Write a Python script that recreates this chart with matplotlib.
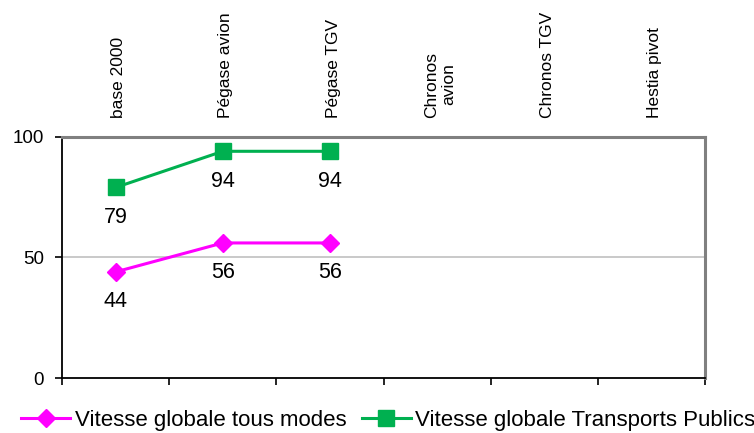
import numpy as np
import matplotlib.pyplot as plt

# Donnees du graphique
scenarios = ["base 2000", "Pégase avion", "Pégase TGV", "Chronos\navion", "Chronos TGV", "Hestia pivot"]
vitesse_tous_modes = [44, 56, 56]
vitesse_tc = [79, 94, 94]
serie_labels = ["Vitesse globale tous modes", "Vitesse globale Transports Publics"]

plt.rcParams['font.family'] = ['Liberation Sans', 'DejaVu Sans']

fig = plt.figure(figsize=(7.54, 4.33), dpi=100)
ax = fig.add_axes([0.0822, 0.127, 0.853, 0.557])

x1 = np.arange(len(vitesse_tous_modes))
x2 = np.arange(len(vitesse_tc))

ax.plot(x1, vitesse_tous_modes, color="#FF00FF", lw=2.2, marker="D", ms=9.5,
        label=serie_labels[0], zorder=3)
ax.plot(x2, vitesse_tc, color="#00B050", lw=2.2, marker="s", ms=12,
        label=serie_labels[1], zorder=3)

# etiquettes de valeurs sous les points
for xs, ys in [(x1, vitesse_tous_modes), (x2, vitesse_tc)]:
    for xi, yi in zip(xs, ys):
        ax.annotate(str(yi), (xi, yi), xytext=(0, -21.5), textcoords="offset points",
                    ha="center", va="center", fontsize=15.5)

ax.set_xlim(-0.5, len(scenarios) - 0.5)
ax.set_ylim(0, 100)
ax.set_yticks([0, 50, 100])
ax.set_xticks(np.arange(-0.5, len(scenarios), 1.0))
ax.set_xticklabels([])
ax.tick_params(axis="both", direction="out", length=5, width=1.2, labelsize=13.5)
ax.tick_params(axis="y", pad=8)

ax.axhline(50, color="#C0C0C0", lw=1.2, zorder=1)

for s in ["left", "bottom"]:
    ax.spines[s].set_color("black")
    ax.spines[s].set_linewidth(1.3)
for s in ["top", "right"]:
    ax.spines[s].set_color("#808080")
    ax.spines[s].set_linewidth(2.2)

# noms des scenarios au-dessus du graphique
for i, nom in enumerate(scenarios):
    ax.text(i + 0.03, 1.08, nom, transform=ax.get_xaxis_transform(), rotation=90,
            ha="center", va="bottom", multialignment="center", fontsize=12.5)

fig.legend(loc="center", bbox_to_anchor=(0.515, 0.03), ncol=2, frameon=False,
           fontsize=16, handlelength=2.2, columnspacing=0.7, handletextpad=0.2,
           borderaxespad=0, borderpad=0)

plt.savefig("out.png", dpi=100)
